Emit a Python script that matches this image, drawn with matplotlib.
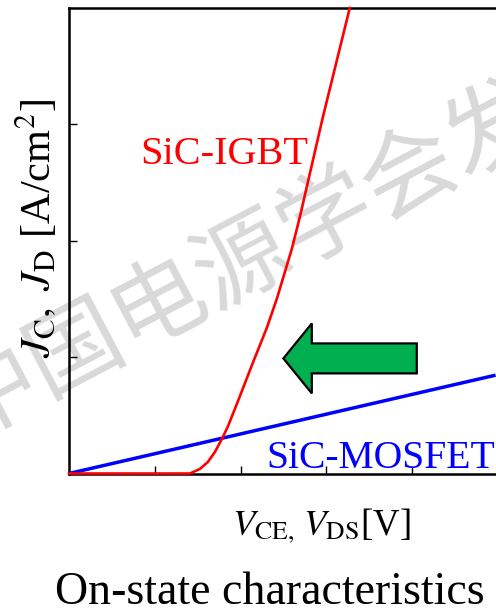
"""On-state characteristics of SiC-IGBT vs SiC-MOSFET (schematic)."""
import matplotlib
matplotlib.use("Agg")
import matplotlib.pyplot as plt
from matplotlib.patches import FancyArrow

plt.rcParams["font.family"] = ["Liberation Serif", "DejaVu Serif"]
plt.rcParams["mathtext.fontset"] = "stix"

# IGBT: knee near 1.4 V, then steep rise
igbt_v = [0.0, 1.409, 1.525, 1.618, 1.700, 1.781, 1.850, 1.973, 2.136,
          2.304, 2.421, 2.596, 2.689, 2.957, 3.271]
igbt_j = [0.0, 0.0, 0.039, 0.099, 0.185, 0.296, 0.402, 0.630, 0.940,
          1.250, 1.500, 1.930, 2.202, 3.060, 4.000]

# MOSFET: resistive, straight from the origin
mosfet_v = [0.0, 4.97]
mosfet_j = [0.0, 0.845]

x_ticks = [1, 2, 3, 4]
y_ticks = [1, 2, 3]

W, H, DPI = 496, 613, 100
fig = plt.figure(figsize=(W / DPI, H / DPI), dpi=DPI)
fig.patch.set_facecolor("white")

ax = fig.add_axes([69 / W, 1 - 473.5 / H, 1 - 69 / W, (473.5 - 8) / H])
ax.set_xlim(0, 4.975)
ax.set_ylim(0, 4)
ax.spines["right"].set_visible(False)
for s in ("left", "top", "bottom"):
    ax.spines[s].set_linewidth(1.8)
ax.set_xticks(x_ticks)
ax.set_yticks(y_ticks)
ax.tick_params(direction="in", length=6, width=1.0, labelbottom=False,
               labelleft=False)

ax.plot(mosfet_v, mosfet_j, color="#0000ff", lw=2.5, zorder=3,
        solid_capstyle="butt", clip_on=False)
ax.plot(igbt_v, igbt_j, color="#ff0000", lw=1.9, zorder=4, clip_on=False)

ax.text(0.826, 2.66, "SiC-IGBT", color="#ff0000", fontsize=29,
        ha="left", va="baseline")
ax.text(2.30, 0.05, "SiC-MOSFET", color="#0000ff", fontsize=28.5,
        ha="left", va="baseline", clip_on=False)

# green arrow pointing toward lower on-voltage
ax.add_patch(FancyArrow(4.052, 0.989, -1.554, 0, width=0.2575,
                        head_width=0.601, head_length=0.331,
                        length_includes_head=True, facecolor="#00b050",
                        edgecolor="black", lw=1.6, zorder=5))

# watermark
ax.text(0.49, 0.577, "中国电源学会发", transform=fig.transFigure,
        rotation=27.8, rotation_mode="anchor", ha="center", va="center",
        fontsize=68, color="#d9d9d9", family=["Noto Sans CJK SC"],
        zorder=1, clip_on=False)

fig.text(37 / W, 1 - 229 / H, r"$J_{\mathrm{C}},\ J_{\mathrm{D}}$ [A/cm$^{2}$]",
         rotation=90, ha="center", va="center", fontsize=30.5)
fig.text(321 / W, 1 - 535 / H, r"$V_{\mathrm{CE,}}\,V_{\mathrm{DS}}$[V]",
         ha="center", va="baseline", fontsize=26.5)
fig.text(55 / W, 1 - 604 / H, "On-state characteristics",
         ha="left", va="baseline", fontsize=33)

fig.savefig("out.png", dpi=DPI, facecolor="white")
